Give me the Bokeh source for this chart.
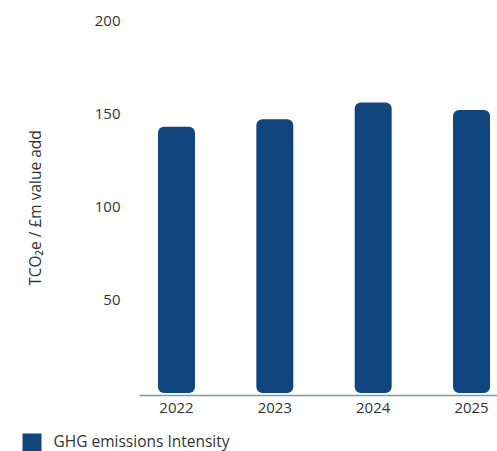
from bokeh.plotting import figure
from bokeh.layouts import column, row
from bokeh.models import ColumnDataSource, Range1d, FixedTicker
from bokeh.core.properties import value
from bokeh.embed import file_html
from bokeh.resources import INLINE

# GHG emissions intensity by year
years = ["2022", "2023", "2024", "2025"]
intensity = [143, 147, 156, 152]
y_ticks = [50, 100, 150, 200]
series_name = "GHG emissions Intensity"

BAR = "#10457e"
TEXT = "#333333"
FONT = "Open Sans"

source = ColumnDataSource(dict(x=list(range(len(years))), top=intensity, year=years))

p = figure(
    width=497, height=421,
    output_backend="svg", toolbar_location=None,
    x_range=Range1d(-0.376, 3.264), y_range=Range1d(-1.34, 200.0),
    min_border_left=139, min_border_right=0, min_border_top=20, min_border_bottom=26,
)
p.outline_line_color = None
p.background_fill_color = "white"
p.border_fill_color = "white"
p.grid.visible = False

bars = p.vbar(x="x", top="top", bottom=0, width=0.376, source=source,
              fill_color=BAR, line_color=None, border_radius=6)

# x axis: years under the bars
xa = p.xaxis[0]
xa.ticker = FixedTicker(ticks=list(range(len(years))))
xa.major_label_overrides = {i: y for i, y in enumerate(years)}
xa.axis_line_color = "#7a9e9a"
xa.axis_line_width = 1.5
xa.major_tick_line_color = None
xa.minor_tick_line_color = None
xa.major_tick_out = 0
xa.major_tick_in = 0
xa.major_label_standoff = 7
xa.major_label_text_font = FONT
xa.major_label_text_font_size = "15px"
xa.major_label_text_color = TEXT

# y axis: labels only
ya = p.yaxis[0]
ya.ticker = FixedTicker(ticks=y_ticks)
ya.axis_line_color = None
ya.major_tick_line_color = None
ya.minor_tick_line_color = None
ya.major_tick_out = 0
ya.major_tick_in = 0
ya.major_label_standoff = 19
ya.major_label_text_font = FONT
ya.major_label_text_font_size = "15px"
ya.major_label_text_color = TEXT
ya.axis_label = "TCO\u2082e / \u00a3m value add"
ya.axis_label_text_font = FONT
ya.axis_label_text_font_size = "15.5px"
ya.axis_label_text_font_style = "normal"
ya.axis_label_text_color = TEXT
ya.axis_label_standoff = 46

# legend strip beneath the chart: colour key and series name
lg = figure(
    width=497, height=30,
    output_backend="svg", toolbar_location=None,
    x_range=Range1d(0, 497), y_range=Range1d(0, 30),
    x_axis_type=None, y_axis_type=None,
    min_border=0,
)
lg.outline_line_color = None
lg.grid.visible = False
lg.rect(x=[31.5], y=[9], width=19, height=18, fill_color=BAR, line_color=None)
lg.text(x=[53], y=[10.5], text=[series_name],
        text_font=value(FONT), text_font_size="15.5px", text_color=TEXT,
        text_baseline="middle", text_align="left")

open("out.html", "w").write(file_html(column(p, row(lg), spacing=0), INLINE))
